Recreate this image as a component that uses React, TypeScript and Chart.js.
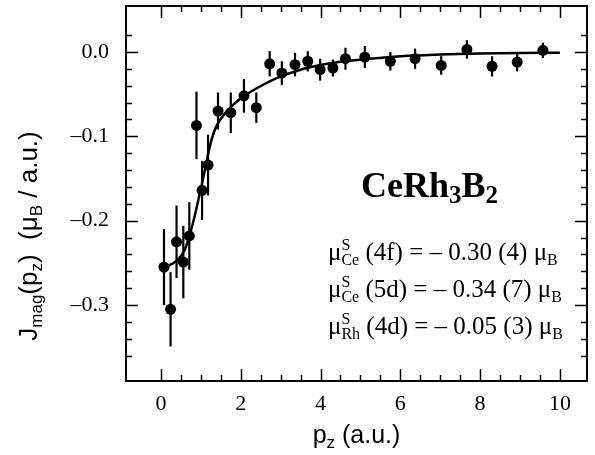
import React, { useEffect, useRef } from 'react';
import { Chart, registerables } from 'chart.js';

Chart.register(...registerables);

// ---- data ----
const pz = [0.075, 0.24, 0.39, 0.56, 0.71, 0.89, 1.03, 1.18, 1.43, 1.75, 2.08, 2.39, 2.725, 3.03, 3.36, 3.68, 3.99, 4.31, 4.625, 5.11, 5.75, 6.37, 7.025, 7.67, 8.3, 8.93, 9.575];
const jmag = [-0.255, -0.305, -0.225, -0.249, -0.218, -0.087, -0.164, -0.134, -0.070, -0.072, -0.052, -0.066, -0.014, -0.025, -0.015, -0.011, -0.021, -0.019, -0.008, -0.006, -0.011, -0.008, -0.016, 0.003, -0.017, -0.012, 0.002];
const jmagErr = [0.045, 0.044, 0.043, 0.043, 0.040, 0.040, 0.035, 0.036, 0.022, 0.024, 0.020, 0.018, 0.015, 0.014, 0.014, 0.012, 0.013, 0.010, 0.013, 0.013, 0.011, 0.012, 0.011, 0.011, 0.012, 0.011, 0.009];

const fitX = [0, 0.2, 0.4, 0.6, 0.8, 1.0, 1.1, 1.2, 1.3, 1.4, 1.6, 1.8, 2.0, 2.4, 2.9, 3.5, 4.0, 4.5, 5.0, 5.5, 6.0, 7.0, 8.0, 9.0, 10.0];
const fitY = [-0.255, -0.253, -0.247, -0.234, -0.203, -0.162, -0.140, -0.117, -0.099, -0.087, -0.073, -0.063, -0.055, -0.043, -0.031, -0.021, -0.0155, -0.0115, -0.009, -0.007, -0.0052, -0.003, -0.0018, -0.0012, -0.001];

const xTickValues = [0, 2, 4, 6, 8, 10];
const yTickValues = [-0.3, -0.2, -0.1, 0.0];
const xMinorTicks = [0, 0.5, 1, 1.5, 2, 2.5, 3, 3.5, 4, 4.5, 5, 5.5, 6, 6.5, 7, 7.5, 8, 8.5, 9, 9.5, 10];
const yMinorTicks = [-0.36, -0.34, -0.32, -0.3, -0.28, -0.26, -0.24, -0.22, -0.2, -0.18, -0.16, -0.14, -0.12, -0.1, -0.08, -0.06, -0.04, -0.02, 0, 0.02];

const compound = 'CeRh3B2';
const momentLines = [
  { site: 'Ce', shell: '4f', value: '0.30', err: '4' },
  { site: 'Ce', shell: '5d', value: '0.34', err: '7' },
  { site: 'Rh', shell: '4d', value: '0.05', err: '3' },
];

type Seg = { t: string; size: number; dy?: number; bold?: boolean; sup?: string; sub?: string };

function segWidth(ctx: CanvasRenderingContext2D, s: Seg, family: string) {
  if (s.sup !== undefined) {
    ctx.font = `${s.size}px ${family}`;
    return Math.max(ctx.measureText(s.sup).width, ctx.measureText(s.sub || '').width);
  }
  ctx.font = `${s.bold ? 'bold ' : ''}${s.size}px ${family}`;
  return ctx.measureText(s.t).width;
}

function drawSegs(ctx: CanvasRenderingContext2D, segs: Seg[], x: number, y: number, family: string, align: 'left' | 'center') {
  let total = 0;
  for (const s of segs) total += segWidth(ctx, s, family);
  let cx = align === 'center' ? x - total / 2 : x;
  ctx.textAlign = 'left';
  ctx.textBaseline = 'alphabetic';
  for (const s of segs) {
    const w = segWidth(ctx, s, family);
    if (s.sup !== undefined) {
      ctx.font = `${s.size}px ${family}`;
      ctx.fillText(s.sup, cx, y - 10);
      ctx.fillText(s.sub || '', cx, y + 5);
    } else {
      ctx.font = `${s.bold ? 'bold ' : ''}${s.size}px ${family}`;
      ctx.fillText(s.t, cx, y + (s.dy || 0));
    }
    cx += w;
  }
}

const SERIF = '"Liberation Serif", "Times New Roman", serif';
const SANS = '"Liberation Sans", Arial, sans-serif';

const decorPlugin = {
  id: 'decor',
  afterDatasetsDraw(chart: any) {
    const { ctx, chartArea: a, scales } = chart;
    const xs = scales.x;
    const ys = scales.y;
    ctx.save();
    ctx.beginPath();
    ctx.rect(a.left, a.top, a.right - a.left, a.bottom - a.top);
    ctx.clip();
    ctx.strokeStyle = '#000';
    ctx.lineWidth = 2.2;
    for (let i = 0; i < pz.length; i++) {
      const px = xs.getPixelForValue(pz[i]);
      ctx.beginPath();
      ctx.moveTo(px, ys.getPixelForValue(jmag[i] + jmagErr[i]));
      ctx.lineTo(px, ys.getPixelForValue(jmag[i] - jmagErr[i]));
      ctx.stroke();
    }
    ctx.restore();
  },
  afterDraw(chart: any) {
    const { ctx, chartArea: a, scales } = chart;
    const xs = scales.x;
    const ys = scales.y;
    ctx.save();
    ctx.strokeStyle = '#000';
    ctx.fillStyle = '#000';
    ctx.lineWidth = 2;
    ctx.strokeRect(a.left, a.top, a.right - a.left, a.bottom - a.top);
    ctx.lineWidth = 1.5;
    ctx.beginPath();
    for (const v of xMinorTicks) {
      const major = xTickValues.some((m) => Math.abs(m - v) < 1e-6);
      const len = major ? 12 : 6;
      const px = Math.round(xs.getPixelForValue(v)) + 0.5;
      ctx.moveTo(px, a.bottom); ctx.lineTo(px, a.bottom - len);
      ctx.moveTo(px, a.top); ctx.lineTo(px, a.top + len);
    }
    for (const v of yMinorTicks) {
      const major = yTickValues.some((m) => Math.abs(m - v) < 1e-6);
      const len = major ? 12 : 6;
      const py = Math.round(ys.getPixelForValue(v)) + 0.5;
      ctx.moveTo(a.left, py); ctx.lineTo(a.left + len, py);
      ctx.moveTo(a.right, py); ctx.lineTo(a.right - len, py);
    }
    ctx.stroke();

    drawSegs(ctx, [
      { t: compound.slice(0, 4), size: 36, bold: true },
      { t: compound.slice(4, 5), size: 25, bold: true, dy: 6 },
      { t: compound.slice(5, 6), size: 36, bold: true },
      { t: compound.slice(6, 7), size: 25, bold: true, dy: 6 },
    ], 361, 197, SERIF, 'left');

    momentLines.forEach((m, i) => {
      drawSegs(ctx, [
        { t: 'μ', size: 25 },
        { t: '', size: 16, sup: 'S', sub: m.site },
        { t: ` (${m.shell}) = – ${m.value} (${m.err}) μ`, size: 25 },
        { t: 'B', size: 16, dy: 5 },
      ], 328, 260 + i * 37, SERIF, 'left');
    });

    drawSegs(ctx, [
      { t: 'p', size: 25 },
      { t: 'z', size: 17, dy: 5 },
      { t: ' (a.u.)', size: 25 },
    ], (a.left + a.right) / 2, 443, SANS, 'center');

    ctx.translate(37, 236);
    ctx.rotate(-Math.PI / 2);
    drawSegs(ctx, [
      { t: 'J', size: 26 },
      { t: 'mag', size: 17, dy: 5 },
      { t: '(p', size: 26 },
      { t: 'z', size: 17, dy: 5 },
      { t: ')  (μ', size: 26 },
      { t: 'B', size: 17, dy: 5 },
      { t: ' / a.u.)', size: 26 },
    ], 0, 0, SANS, 'center');
    ctx.restore();
  },
};

export default function App() {
  const ref = useRef<HTMLCanvasElement | null>(null);
  useEffect(() => {
    if (!ref.current) return;
    const chart = new Chart(ref.current, {
      type: 'scatter',
      data: {
        datasets: [
          {
            label: 'data',
            data: pz.map((x, i) => ({ x, y: jmag[i] })),
            pointRadius: 5.5,
            pointBackgroundColor: '#000',
            pointBorderColor: '#000',
            pointBorderWidth: 0,
            showLine: false,
            order: 0,
          },
          {
            label: 'fit',
            type: 'line',
            data: fitX.map((x, i) => ({ x, y: fitY[i] })),
            borderColor: '#000',
            borderWidth: 2.5,
            pointRadius: 0,
            fill: false,
            cubicInterpolationMode: 'monotone',
            order: 1,
          } as any,
        ],
      },
      options: {
        responsive: false,
        animation: false,
        events: [],
        layout: { padding: { left: 0, right: 8, top: 6, bottom: 0 } },
        plugins: { legend: { display: false }, tooltip: { enabled: false } },
        scales: {
          x: {
            type: 'linear',
            min: -0.877,
            max: 10.68,
            grid: { display: false, drawTicks: false },
            border: { display: false },
            afterBuildTicks: (s: any) => { s.ticks = xTickValues.map((v) => ({ value: v })); },
            afterFit: (s: any) => { s.height = 74; s.paddingLeft = 0; s.paddingRight = 0; },
            ticks: {
              color: '#000',
              padding: 10,
              maxRotation: 0,
              font: { family: SERIF, size: 22 },
              callback: (v: any) => String(v),
            },
          },
          y: {
            type: 'linear',
            min: -0.39,
            max: 0.0545,
            grid: { display: false, drawTicks: false },
            border: { display: false },
            afterBuildTicks: (s: any) => { s.ticks = yTickValues.map((v) => ({ value: v })); },
            afterFit: (s: any) => { s.width = 126; s.paddingTop = 0; s.paddingBottom = 0; },
            ticks: {
              color: '#000',
              padding: 17,
              font: { family: SERIF, size: 22 },
              callback: (v: any) => (Math.abs(v) < 1e-9 ? '0.0' : '–' + Math.abs(v).toFixed(1)),
            },
          },
        },
      },
      plugins: [decorPlugin],
    });
    return () => chart.destroy();
  }, []);
  return (
    <div style={{ position: 'absolute', left: 0, top: 0, width: 595, height: 455, background: '#fff' }}>
      <canvas ref={ref} width={595} height={455} style={{ display: 'block' }} />
    </div>
  );
}
